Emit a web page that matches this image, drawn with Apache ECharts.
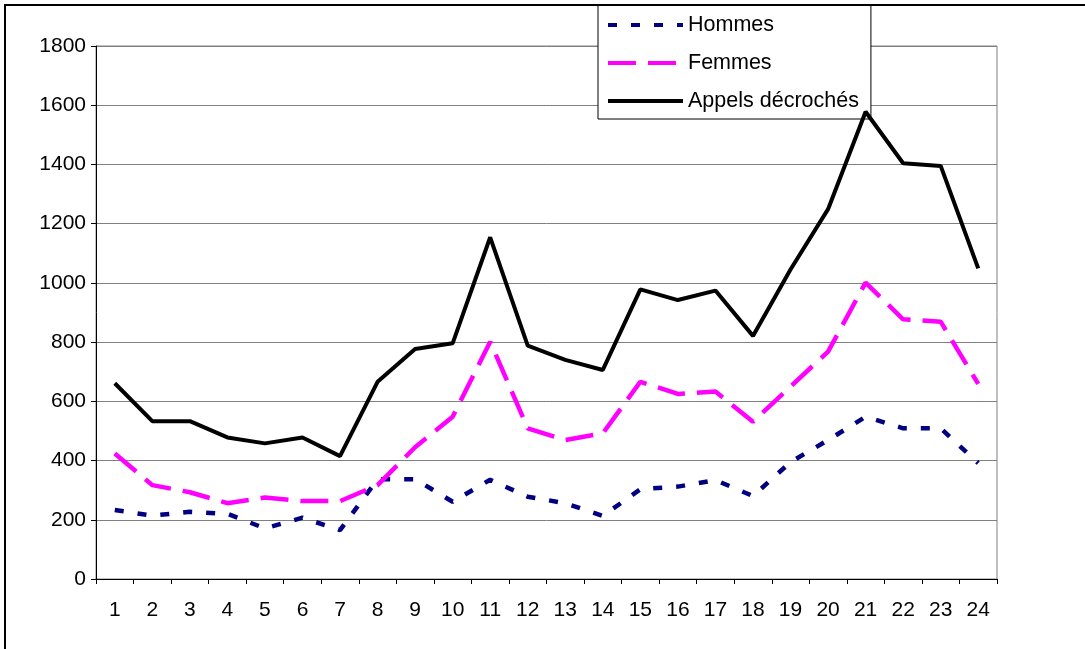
<!DOCTYPE html>
<html>
<head>
<meta charset="utf-8">
<script src="https://cdn.jsdelivr.net/npm/echarts@6/dist/echarts.min.js"></script>
<style>
html,body{margin:0;padding:0;background:#fff;}
#chart{width:1085px;height:649px;}
</style>
</head>
<body>
<div id="chart"></div>
<script>
var categories = ['1','2','3','4','5','6','7','8','9','10','11','12','13','14','15','16','17','18','19','20','21','22','23','24'];
var hommes = [233, 214, 227, 220, 171, 207, 165, 337, 337, 261, 335, 278, 256, 213, 303, 312, 334, 280, 395, 469, 548, 509, 509, 391];
var femmes = [424, 317, 293, 256, 275, 263, 263, 317, 445, 548, 801, 509, 469, 492, 666, 625, 633, 531, 650, 768, 1001, 877, 869, 659];
var appels = [661, 533, 533, 478, 458, 478, 415, 666, 777, 796, 1154, 788, 740, 706, 978, 942, 974, 821, 1045, 1249, 1578, 1404, 1395, 1049];
var yTicks = {min: 0, max: 1800, interval: 200};

var font = 'Liberation Sans, Arial, sans-serif';
var chart = echarts.init(document.getElementById('chart'), null, {renderer: 'canvas'});
chart.setOption({
  animation: false,
  backgroundColor: '#fff',
  graphic: [{
    type: 'rect', z: 100, silent: true,
    shape: {x: 5, y: 5, width: 1200, height: 800},
    style: {fill: 'none', stroke: '#000', lineWidth: 2}
  }],
  grid: {left: 96, right: 88, top: 46, bottom: 70, show: true, borderColor: '#808080', borderWidth: 1, backgroundColor: 'transparent'},
  legend: {
    orient: 'vertical', left: 598, top: 5,
    backgroundColor: '#fff', borderColor: '#000', borderWidth: 1,
    padding: [9, 12, 7, 8], itemGap: 16, itemWidth: 75, itemHeight: 14,
    itemStyle: {opacity: 0},
    lineStyle: {width: 4},
    textStyle: {fontFamily: font, fontSize: 21.5, color: '#000'},
    data: ['Hommes', 'Femmes', 'Appels décrochés']
  },
  xAxis: {
    type: 'category', data: categories, boundaryGap: true,
    axisLine: {lineStyle: {color: '#000', width: 1}},
    axisTick: {show: true, length: 5, lineStyle: {color: '#000'}},
    axisLabel: {fontFamily: font, fontSize: 21, color: '#000', margin: 21}
  },
  yAxis: {
    type: 'value', min: yTicks.min, max: yTicks.max, interval: yTicks.interval,
    axisLine: {show: true, lineStyle: {color: '#000', width: 1}},
    axisTick: {show: true, length: 5, lineStyle: {color: '#000'}},
    axisLabel: {fontFamily: font, fontSize: 21, color: '#000', margin: 10, formatter: function (v) { return String(v); }},
    splitLine: {lineStyle: {color: '#808080', width: 1}}
  },
  series: [
    {name: 'Hommes', type: 'line', data: hommes, symbol: 'none', z: 3,
     lineStyle: {color: '#000080', width: 4.5, type: [9, 14]}, itemStyle: {color: '#000080'}},
    {name: 'Femmes', type: 'line', data: femmes, symbol: 'none', z: 4,
     lineStyle: {color: '#FF00FF', width: 4.5, type: [28, 12]}, itemStyle: {color: '#FF00FF'}},
    {name: 'Appels décrochés', type: 'line', data: appels, symbol: 'none', z: 5,
     lineStyle: {color: '#000000', width: 4}, itemStyle: {color: '#000'}}
  ]
});
</script>
</body>
</html>
